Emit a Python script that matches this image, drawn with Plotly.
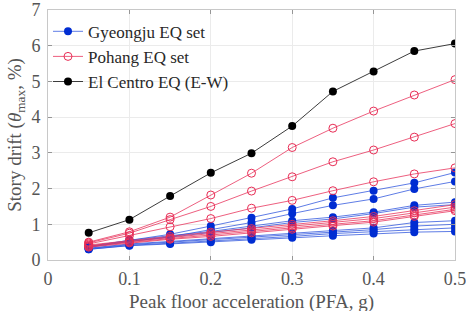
import plotly.graph_objects as go

pfa = [0.05, 0.10, 0.15, 0.20, 0.25, 0.30, 0.35, 0.40, 0.45, 0.50]

gyeongju = [
    [0.38, 0.55, 0.72, 0.95, 1.18, 1.43, 1.74, 1.94, 2.16, 2.45],
    [0.36, 0.52, 0.65, 0.85, 1.05, 1.30, 1.53, 1.71, 1.99, 2.20],
    [0.38, 0.55, 0.68, 0.80, 0.95, 1.10, 1.20, 1.34, 1.53, 1.62],
    [0.36, 0.52, 0.64, 0.76, 0.90, 1.05, 1.15, 1.30, 1.48, 1.55],
    [0.33, 0.45, 0.52, 0.60, 0.68, 0.75, 0.82, 0.90, 1.05, 1.10],
    [0.32, 0.43, 0.50, 0.57, 0.64, 0.70, 0.78, 0.85, 0.95, 1.00],
    [0.30, 0.41, 0.47, 0.53, 0.60, 0.66, 0.74, 0.80, 0.86, 0.90],
    [0.30, 0.40, 0.45, 0.50, 0.57, 0.62, 0.68, 0.74, 0.78, 0.80],
]

pohang = [
    [0.50, 0.79, 1.20, 1.82, 2.43, 3.15, 3.69, 4.17, 4.62, 5.05],
    [0.48, 0.75, 1.13, 1.50, 1.93, 2.33, 2.75, 3.08, 3.44, 3.82],
    [0.45, 0.68, 0.93, 1.16, 1.45, 1.67, 1.94, 2.19, 2.41, 2.58],
    [0.42, 0.55, 0.66, 0.78, 0.88, 1.00, 1.10, 1.22, 1.38, 1.55],
    [0.40, 0.52, 0.62, 0.74, 0.84, 0.95, 1.05, 1.16, 1.32, 1.48],
    [0.38, 0.50, 0.60, 0.70, 0.80, 0.90, 1.00, 1.10, 1.26, 1.42],
    [0.36, 0.48, 0.58, 0.66, 0.76, 0.86, 0.95, 1.06, 1.22, 1.38],
]

el_centro = [0.76, 1.13, 1.79, 2.44, 2.99, 3.75, 4.72, 5.28, 5.85, 6.06]

x_ticks = [0, 0.1, 0.2, 0.3, 0.4, 0.5]
x_tick_labels = ["0", "0.1", "0.2", "0.3", "0.4", "0.5"]
y_ticks = [0, 1, 2, 3, 4, 5, 6, 7]

BLUE = "rgb(0,45,210)"
BLUE_LINE = "rgba(40,80,220,0.75)"
RED = "rgb(232,45,85)"
RED_LINE = "rgba(232,55,95,0.8)"
TXT = "rgb(85,85,85)"
SERIF = "Liberation Serif"

fig = go.Figure()

for i, ys in enumerate(gyeongju):
    fig.add_trace(go.Scatter(
        x=pfa, y=ys, mode="lines+markers", name="Gyeongju EQ set",
        legendgroup="g", showlegend=(i == 0),
        line=dict(color=BLUE_LINE, width=1),
        marker=dict(symbol="circle", size=8, color=BLUE, line=dict(width=0)),
    ))

for i, ys in enumerate(pohang):
    fig.add_trace(go.Scatter(
        x=pfa, y=ys, mode="lines+markers", name="Pohang EQ set",
        legendgroup="p", showlegend=(i == 0),
        line=dict(color=RED_LINE, width=1),
        marker=dict(symbol="circle-open", size=8, color=RED, line=dict(width=1)),
    ))

fig.add_trace(go.Scatter(
    x=pfa, y=el_centro, mode="lines+markers", name="El Centro EQ (E-W)",
    legendgroup="e",
    line=dict(color="rgb(60,60,60)", width=1),
    marker=dict(symbol="circle", size=8, color="black"),
))

axis_common = dict(
    showline=True, linecolor="rgb(200,200,200)", linewidth=1, mirror="ticks",
    ticks="inside", ticklen=4, tickcolor="rgb(150,150,150)",
    showgrid=True, gridcolor="rgb(235,235,235)", gridwidth=1,
    zeroline=False, ticklabeloverflow="allow", automargin=False,
    tickfont=dict(family=SERIF, size=18, color=TXT),
)

fig.update_xaxes(
    range=[0, 0.5], tickvals=x_ticks, ticktext=x_tick_labels,
    ticklabelstandoff=2,
    **axis_common,
)
fig.update_yaxes(
    range=[0, 7], tickvals=y_ticks,
    ticklabelstandoff=3,
    title=dict(text="Story drift (<i>θ</i><sub>max</sub>, %)",
               font=dict(family=SERIF, size=19, color=TXT),
               standoff=4),
    **axis_common,
)

fig.add_annotation(
    text="Peak floor acceleration (PFA, g)",
    xref="paper", yref="paper", x=0.5, y=0, yshift=-42,
    xanchor="center", yanchor="middle", showarrow=False,
    font=dict(family=SERIF, size=19, color=TXT),
)

fig.update_layout(
    width=466, height=311,
    margin=dict(l=48, r=11, t=10, b=51),
    paper_bgcolor="white", plot_bgcolor="white",
    legend=dict(
        x=0.0, y=0.985, xanchor="left", yanchor="top",
        bgcolor="rgba(255,255,255,0)", borderwidth=0,
        font=dict(family=SERIF, size=17, color="rgb(40,40,40)"),
        tracegroupgap=0, itemwidth=30,
    ),
)

fig.write_html("out.html")
